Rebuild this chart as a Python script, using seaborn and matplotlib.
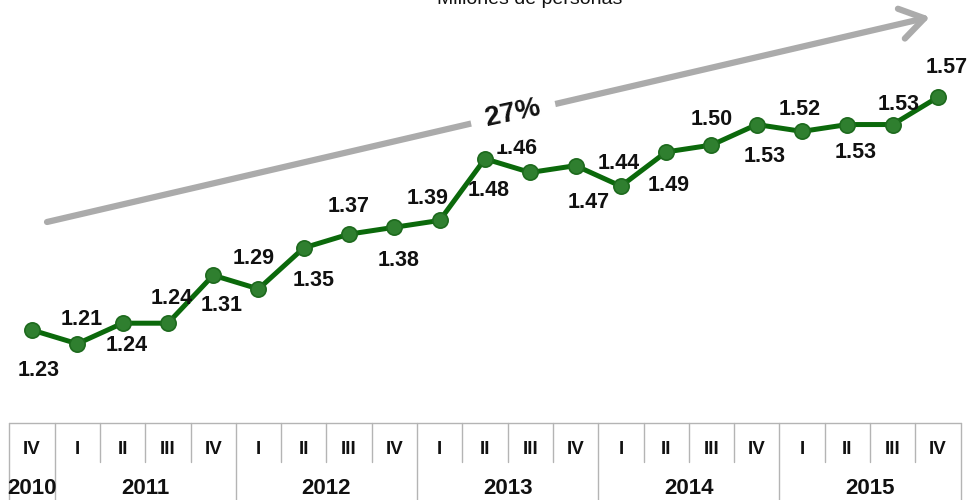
import numpy as np
import matplotlib
matplotlib.use('Agg')
import matplotlib.pyplot as plt
import seaborn as sns

# datos: poblacion en millones de personas por trimestre
trimestres = ['IV', 'I', 'II', 'III', 'IV', 'I', 'II', 'III', 'IV', 'I', 'II',
              'III', 'IV', 'I', 'II', 'III', 'IV', 'I', 'II', 'III', 'IV']
anios = ['2010', '2011', '2012', '2013', '2014', '2015']
trimestres_por_anio = [1, 4, 4, 4, 4, 4]
valores = [1.23, 1.21, 1.24, 1.24, 1.31, 1.29, 1.35, 1.37, 1.38, 1.39, 1.48,
           1.46, 1.47, 1.44, 1.49, 1.50, 1.53, 1.52, 1.53, 1.53, 1.57]
crecimiento = '27%'
titulo = 'Millones de personas'

# desplazamiento de las etiquetas (pixeles)
offsets = [(7, -40), (4, 24), (4, -22), (4, 25), (8, -30), (-5, 30), (10, -33),
           (0, 28), (4, -33), (-12, 22), (4, -32), (-14, 24), (13, -37), (-2, 23),
           (2, -34), (0, 26), (8, -32), (-2, 22), (8, -28), (6, 20), (9, 30)]

sns.set_style('white')
plt.rcParams['font.family'] = ['Liberation Sans', 'DejaVu Sans']

fig = plt.figure(figsize=(9.7, 5), dpi=100)
ax = fig.add_axes([9.35 / 970, 0, 951.3 / 970, 1])
x = np.arange(len(valores))

sns.lineplot(x=x, y=valores, ax=ax, color='#0b690b', linewidth=3.6,
             marker='o', markersize=11, markerfacecolor='#2f7f2f',
             markeredgecolor='#1d6a1d', markeredgewidth=1.2)

for i, v in enumerate(valores):
    dx, dy = offsets[i]
    ax.annotate(f'{v:.2f}', (i, v), xytext=(dx * 0.72, dy * 0.72),
                textcoords='offset points', ha='center', va='center',
                fontsize=15.5, fontweight='bold', color='#111111')

ax.set_xlim(-0.5, len(valores) - 0.5)
ax.set_ylim(0.9819, 1.7118)
ax.axis('off')

# tabla de categorias debajo
tr = ax.get_xaxis_transform()
y_top = 1 - 423 / 500
y_mid = 1 - 462 / 500
gris = '#b4b4b4'
ax.plot([-0.5, len(valores) - 0.5], [y_top, y_top], transform=tr, color=gris,
        lw=1.0, clip_on=False)
bordes = np.cumsum([0] + trimestres_por_anio) - 0.5
for b in np.arange(-0.5, len(valores)):
    if b in bordes:
        ax.plot([b, b], [0, y_top], transform=tr, color=gris, lw=1.0, clip_on=False)
    else:
        ax.plot([b, b], [y_mid, y_top], transform=tr, color=gris, lw=1.0, clip_on=False)
for i, t in enumerate(trimestres):
    ax.text(i, 1 - 449 / 500, t, transform=tr, ha='center', va='center',
            fontsize=13.5, fontweight='bold', color='#111111')
for k, a in enumerate(anios):
    centro = (bordes[k] + bordes[k + 1]) / 2
    ax.text(centro, 1 - 489 / 500, a, transform=tr, ha='center', va='center',
            fontsize=16, fontweight='bold', color='#111111')

# flecha de crecimiento
ax.annotate('', xy=(930 / 970, 1 - 17 / 500), xytext=(47 / 970, 1 - 222 / 500),
            xycoords='figure fraction', textcoords='figure fraction',
            arrowprops=dict(arrowstyle='->, head_length=0.85, head_width=0.55',
                            mutation_scale=20, color='#ababab', lw=4.5,
                            shrinkA=0, shrinkB=0))
fig.text(513 / 970, 1 - 113 / 500, crecimiento, ha='center', va='center',
         rotation=12, fontsize=20, fontweight='bold', color='#111111',
         bbox=dict(facecolor='white', edgecolor='none', pad=11))

fig.text(530 / 970, 1 - 4 / 500, titulo, ha='center', va='baseline',
         fontsize=14, color='#111111')

fig.savefig('out.png', dpi=100)
